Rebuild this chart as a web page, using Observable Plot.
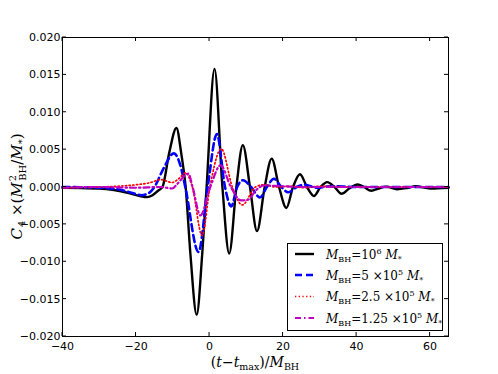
<!DOCTYPE html>
<html>
<head>
<meta charset="utf-8">
<script src="https://cdn.jsdelivr.net/npm/d3@7"></script>
<script src="https://cdn.jsdelivr.net/npm/@observablehq/plot@0.6"></script>
<style>
  html, body { margin: 0; padding: 0; background: #fff; }
  #chart { width: 498px; height: 374px; }
</style>
</head>
<body>
<div id="chart"></div>
<script>
// ---- data ----
const xTicks = [-40, -20, 0, 20, 40, 60];
const yTicks = [-0.02, -0.015, -0.01, -0.005, 0, 0.005, 0.01, 0.015, 0.02];

const tBlack = [-40, -35, -30, -26, -22, -19, -17, -15.5, -14, -12.8, -11, -9, -7.7, -6.5, -5.2, -3.5, -2, -0.8, 1.35, 3.5, 5.35, 7.3, 9.05, 11.0, 12.9, 15.0, 16.9, 18.9, 20.9, 22.7, 24.6, 26.5, 28.4, 30.2, 32.0, 34, 35.9, 38, 40.3, 42, 44.0, 46, 48, 51, 54, 56, 60, 65];
const vBlack = [-0.0001, -0.00015, -0.0002, -0.0004, -0.0008, -0.0012, -0.00135, -0.0011, -0.0005, 0.0, 0.0045, 0.0079, 0.0045, 0.0, -0.009, -0.0171, -0.009, 0.0, 0.0158, 0.0, -0.0089, 0.0, 0.0056, 0.0, -0.0059, 0.0, 0.0038, 0.0, -0.0028, 0.0, 0.0017, 0.0, -0.0012, 0.0, 0.00065, 0.0, -0.0009, -0.0002, 0.00033, 0.0, -0.0005, -0.0002, 0.00005, -0.0003, -0.0001, 0.0001, -0.0002, -0.0001];

const tBlue = [-40, -30, -25, -21, -18.5, -16.5, -15, -12.5, -9.7, -8, -6.6, -3.0, -0.5, 2.0, 4.2, 5.9, 7.5, 9.1, 11.3, 13.7, 15.6, 17.5, 19.5, 21.4, 23.7, 26.0, 29, 33, 40, 50, 65];
const vBlue = [0.0, -0.0001, -0.0003, -0.0008, -0.0011, -0.0008, 0.0, 0.0025, 0.0045, 0.003, 0.0, -0.0087, 0.0, 0.0071, 0.0, -0.0026, 0.0, 0.0009, 0.0, -0.0014, 0.0, 0.0011, 0.0, -0.0007, 0.0, 0.0003, -0.0001, 0.0001, 0.0, 0.0, 0.0];

const tRed = [-40, -30, -25, -20, -16, -13.3, -10.2, -8.4, -6.5, -4.7, -2.0, 0.1, 3.2, 6.2, 8.9, 12.5, 14.8, 18, 22, 26, 30, 40, 65];
const vRed = [-0.0001, 0.0, 0.0001, 0.0003, 0.0006, 0.001, 0.0006, 0.0011, 0.0019, 0.0, -0.0065, 0.0, 0.0051, 0.0, -0.0024, 0.0, 0.0003, 0.0, 0.0001, -0.0001, 0.0001, 0.0, 0.0];

const tMag = [-40, -30, -20, -13.3, -10.2, -8.8, -5.8, -4.6, -2.5, 0.2, 3.0, 5.8, 8.6, 10.5, 12.5, 14.8, 20, 25, 40, 65];
const vMag = [-0.0001, 0.0, -0.0001, 0.0, -0.0002, 0.0004, 0.0018, 0.0, -0.0038, 0.0, 0.0029, 0.0, -0.0018, -0.0017, -0.0005, 0.0002, 0.0001, 0.0, 0.0, 0.0];

const seriesNames = ["1e6", "5e5", "2.5e5", "1.25e5"];
const legendPrefix = ["10", "5 \u00d710", "2.5 \u00d710", "1.25 \u00d710"];
const legendExp = ["6", "5", "5", "5"];

// ---- build ----
const toRows = (ts, vs) => ts.map((t, i) => ({t, v: vs[i]}));
const styles = [
  {stroke: "#000000", strokeWidth: 2.4, dash: null},
  {stroke: "#0000ff", strokeWidth: 2.6, dash: "7,4"},
  {stroke: "#ff0000", strokeWidth: 1.7, dash: "1.3,2.4"},
  {stroke: "#bf00bf", strokeWidth: 2.2, dash: "6,3,1.5,3"}
];
const data = [toRows(tBlack, vBlack), toRows(tBlue, vBlue), toRows(tRed, vRed), toRows(tMag, vMag)];

const fmt = d => d3.format(".3f")(d);

const plot = Plot.plot({
  width: 498,
  height: 374,
  marginLeft: 62,
  marginRight: 50,
  marginTop: 37,
  marginBottom: 38,
  style: {fontFamily: "DejaVu Sans", fontSize: "11px", background: "white", overflow: "visible"},
  x: {domain: [-40, 65]},
  y: {domain: [-0.02, 0.02]},
  marks: [
    ...data.map((rows, i) => Plot.line(rows, {
      x: "t", y: "v", curve: "monotone-x",
      stroke: styles[i].stroke, strokeWidth: styles[i].strokeWidth,
      strokeDasharray: styles[i].dash || undefined
    })),
    Plot.frame({stroke: "black", strokeWidth: 1}),
    Plot.axisX({ticks: xTicks, tickSize: 0, tickPadding: 6, label: null, tickFormat: d => d3.format("d")(d), fill: "black", fontSize: 11}),
    Plot.axisY({ticks: yTicks, tickSize: 0, tickPadding: 2, label: null, tickFormat: fmt, fill: "black", fontSize: 11})
  ]
});

document.getElementById("chart").appendChild(plot);

const svg = d3.select(plot);
const xs = plot.scale("x"), ys = plot.scale("y");
const L = 62, R = 448, T = 37, B = 336;
const tickLen = 4;
const tg = svg.append("g").attr("stroke", "black").attr("stroke-width", 1);
xTicks.forEach(v => {
  const x = xs.apply(v);
  tg.append("line").attr("x1", x).attr("x2", x).attr("y1", B).attr("y2", B - tickLen);
  tg.append("line").attr("x1", x).attr("x2", x).attr("y1", T).attr("y2", T + tickLen);
});
yTicks.forEach(v => {
  const y = ys.apply(v);
  tg.append("line").attr("x1", L).attr("x2", L + tickLen).attr("y1", y).attr("y2", y);
  tg.append("line").attr("x1", R).attr("x2", R - tickLen).attr("y1", y).attr("y2", y);
});

const serif = "'DejaVu Serif', 'Liberation Serif', serif";

// x label
const xl = svg.append("text")
  .attr("x", (L + R) / 2).attr("y", 367)
  .attr("text-anchor", "middle")
  .attr("font-family", serif).attr("font-size", 14).attr("fill", "black");
xl.append("tspan").text("(");
xl.append("tspan").attr("font-style", "italic").text("t");
xl.append("tspan").text("\u2212");
xl.append("tspan").attr("font-style", "italic").text("t");
xl.append("tspan").attr("font-size", 9.5).attr("dy", 3).text("max");
xl.append("tspan").attr("dy", -3).text(")/");
xl.append("tspan").attr("font-style", "italic").text("M");
xl.append("tspan").attr("font-size", 9.5).attr("dy", 3).text("BH");

// y label
const yl = svg.append("text")
  .attr("transform", `translate(22,${(T + B) / 2}) rotate(-90)`)
  .attr("text-anchor", "middle")
  .attr("font-family", serif).attr("font-size", 15).attr("fill", "black");
yl.append("tspan").attr("font-style", "italic").text("C");
yl.append("tspan").attr("font-size", 10).attr("dx", 1).attr("dy", 3).text("4");
yl.append("tspan").attr("dy", -3).text(" \u00d7(");
yl.append("tspan").attr("font-style", "italic").text("M");
yl.append("tspan").attr("font-size", 10).attr("dx", 1).attr("dy", -6).text("2");
yl.append("tspan").attr("font-size", 10).attr("dx", -6).attr("dy", 10).text("BH");
yl.append("tspan").attr("dy", -4).text("/");
yl.append("tspan").attr("font-style", "italic").text("M");
yl.append("tspan").attr("font-size", 10).attr("dy", 3).text("*");
yl.append("tspan").attr("dy", -3).text(")");

// legend
const lg = svg.append("g");
lg.append("rect").attr("x", 287.5).attr("y", 243.5).attr("width", 155).attr("height", 87)
  .attr("fill", "white").attr("stroke", "black").attr("stroke-width", 1);
const rowY = [254, 275, 296.5, 318];
seriesNames.forEach((name, i) => {
  const y = rowY[i];
  lg.append("line").attr("x1", 295).attr("x2", 314).attr("y1", y).attr("y2", y)
    .attr("stroke", styles[i].stroke).attr("stroke-width", styles[i].strokeWidth)
    .attr("stroke-dasharray", styles[i].dash || null);
  const tx = lg.append("text").attr("x", 326).attr("y", y + 4.5)
    .attr("text-anchor", "start")
    .attr("font-family", serif).attr("font-size", 12).attr("fill", "black");
  tx.append("tspan").attr("font-style", "italic").text("M");
  tx.append("tspan").attr("font-size", 8).attr("dy", 3).text("BH");
  tx.append("tspan").attr("dy", -3).text("=" + legendPrefix[i]);
  tx.append("tspan").attr("font-size", 8).attr("dy", -5).text(legendExp[i]);
  tx.append("tspan").attr("dy", 5).text(" ");
  tx.append("tspan").attr("font-style", "italic").text("M");
  tx.append("tspan").attr("font-size", 8).attr("dy", 3).text("*");
});
</script>
</body>
</html>
